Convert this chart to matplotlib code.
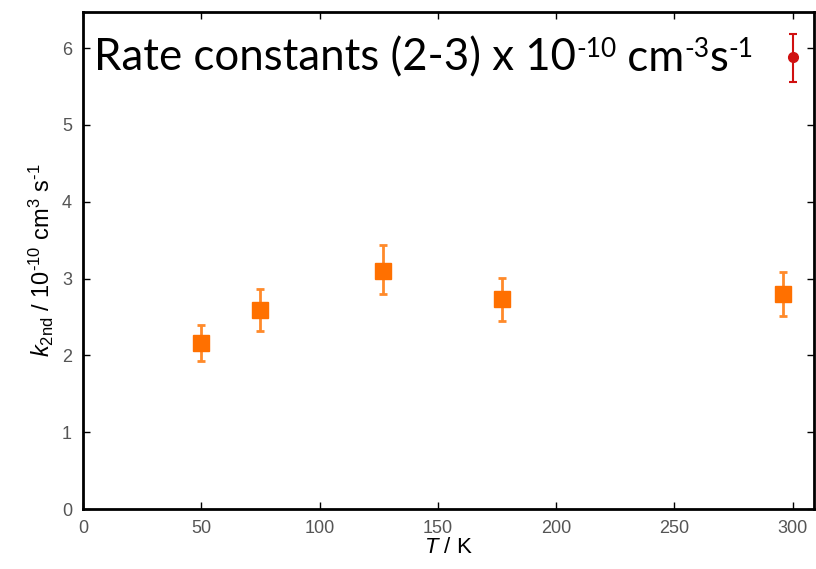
import matplotlib
matplotlib.use('Agg')
import matplotlib.pyplot as plt
from matplotlib.transforms import offset_copy

plt.rcParams['font.family'] = 'Liberation Sans'
plt.rcParams['mathtext.fontset'] = 'custom'
plt.rcParams['mathtext.rm'] = 'Liberation Sans'
plt.rcParams['mathtext.it'] = 'Liberation Sans:italic'

# measured rate constants (orange squares)
temps = [50, 75, 127, 177, 296]
k2nd = [2.16, 2.59, 3.10, 2.73, 2.80]
err_lo = [0.23, 0.27, 0.30, 0.28, 0.29]
err_hi = [0.24, 0.27, 0.34, 0.28, 0.29]

# reference point (red circle)
ref_t = [300]
ref_k = [5.89]
ref_lo = [0.33]
ref_hi = [0.29]

# title pieces: (text, is superscript)
title_parts = [('Rate constants (2-3) x 10', False), ('-10', True),
               (' cm', False), ('-3', True), ('s', False), ('-1', True)]

fig = plt.figure(figsize=(8.16, 5.69), dpi=100)
ax = fig.add_axes([0.1017, 0.1054, 0.8958, 0.8736])

ax.errorbar(temps, k2nd, yerr=[err_lo, err_hi], fmt='s', color='#ff7000',
            ecolor='#ff8a2a', elinewidth=2, capsize=3, capthick=2,
            markersize=11)
ax.errorbar(ref_t, ref_k, yerr=[ref_lo, ref_hi], fmt='o', color='#d01010',
            ecolor='#d01010', elinewidth=1.5, capsize=3, capthick=1.5,
            markersize=7)

ax.set_xlim(0, 309)
ax.set_ylim(0, 6.47)
ax.set_xticks([0, 50, 100, 150, 200, 250, 300])
ax.set_yticks([0, 1, 2, 3, 4, 5, 6])
ax.tick_params(direction='in', top=True, right=True, length=5, width=1,
               labelsize=13, labelcolor='#555555', pad=8)
for s in ax.spines.values():
    s.set_linewidth(2)

ax.set_xlabel(r'$T$ / K', fontsize=16, labelpad=0)
ax.set_ylabel('$k_{\\rm 2nd}$ / 10$^{\\rm \u201010}$ cm$^{\\rm 3}$ s$^{\\rm \u20101}$',
              fontsize=17, labelpad=4)

# title drawn piece by piece so superscripts keep a plain hyphen
fig.canvas.draw()
renderer = fig.canvas.get_renderer()
base = ax.transAxes
x_off = 0.0
for txt, sup in title_parts:
    size = 19 if sup else 31.5
    tr = offset_copy(base, fig=fig, x=x_off, y=9.5 if sup else 0, units='points')
    t = ax.text(0.015, 0.882, txt, transform=tr, fontsize=size, family='Lato',
                va='baseline', ha='left')
    w = t.get_window_extent(renderer).width * 72 / fig.dpi
    x_off += w

fig.savefig('out.png', dpi=100)
